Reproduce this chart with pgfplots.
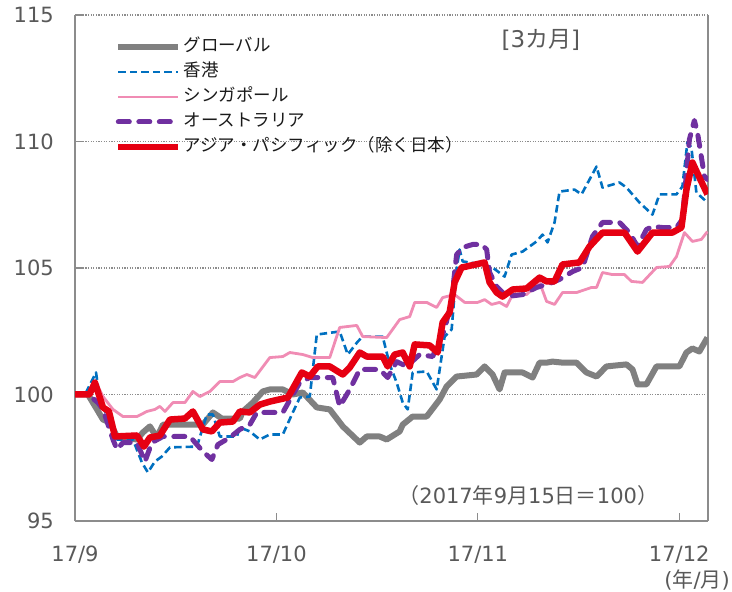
\documentclass[border=0pt]{standalone}
\usepackage{fontspec}
\setmainfont{DejaVu Sans}
\newfontfamily\cjk{Noto Sans CJK JP}
\usepackage{pgfplots}
\pgfplotsset{compat=1.18}
\definecolor{cGray}{HTML}{808080}
\definecolor{cBlue}{HTML}{0070C0}
\definecolor{cPink}{HTML}{F08CB4}
\definecolor{cPurple}{HTML}{7030A0}
\definecolor{cRed}{HTML}{E60012}
\definecolor{cAxis}{HTML}{8C8C8C}
\definecolor{cText}{HTML}{595959}
\definecolor{cLeg}{HTML}{1A1A1A}
\begin{document}
\begin{tikzpicture}
\path[use as bounding box] (-75bp,-71bp) rectangle (657bp,521bp);
\begin{axis}[
  at={(0,0)}, anchor=south west,
  scale only axis, width=633bp, height=506bp,
  xmin=0, xmax=66, ymin=95, ymax=115,
  xtick={0,21,42,63}, xticklabels={17/9,17/10,17/11,17/12},
  ytick={95,100,105,110,115}, yticklabels={95,100,105,110,115},
  axis x line=bottom, axis y line=box,
  axis line style={-, color=cAxis, line width=1.4bp},
  ytick pos=left,
  tick align=inside, major tick length=8bp,
  tick style={color=cAxis, line width=1.2bp},
  ymajorgrids, grid style={color=cAxis, line width=1.3bp, dash pattern=on 1.3bp off 1.3bp},
  xticklabel style={anchor=center, yshift=-34bp, font=\fontsize{21bp}{24bp}\selectfont, text=cText},
  yticklabel style={anchor=east, inner sep=0pt, xshift=-21bp, font=\fontsize{21bp}{24bp}\selectfont, text=cText},
  legend style={draw=none, fill=none, at={(axis description cs:0.063,0.962)}, anchor=north west,
    inner sep=0pt, row sep=0pt, font=\cjk\fontsize{17.5bp}{20bp}\selectfont, text=cLeg,
    nodes={inner ysep=3bp, text height=14bp, text depth=5bp}},
  legend cell align=left,
  legend image code/.code={\draw[#1] (0bp,0bp) -- (60bp,0bp);},
  every axis plot/.append style={line join=round},
]
% Global
\addplot[color=cGray, line width=6bp] coordinates {
(0,100) (1.35,100) (2.29,99.41) (2.92,99.01) (3.65,98.89) (4.38,98.34) (6.46,98.22) (7.08,98.50) (7.81,98.74) (8.54,98.30) (9.17,98.81) (10.63,98.81) (13.33,98.81) (14.38,99.29) (15.31,99.05) (17.19,99.05) (17.5,99.33) (18.54,99.68) (19.58,100.12) (20.31,100.20) (21.67,100.20) (22.71,100.0) (23.75,100.08) (25.21,99.49) (26.56,99.41) (27.92,98.74) (29.69,98.10) (30.42,98.34) (31.77,98.34) (32.5,98.22) (33.85,98.54) (34.17,98.81) (35.21,99.13) (36.67,99.13) (38.02,99.80) (38.75,100.32) (39.79,100.71) (41.88,100.79) (42.71,101.11) (43.54,100.79) (44.27,100.20) (44.79,100.87) (46.67,100.87) (47.71,100.67) (48.44,101.26) (49.17,101.26) (49.79,101.30) (50.83,101.26) (52.29,101.26) (53.33,100.87) (54.38,100.71) (55.42,101.11) (57.5,101.19) (58.13,100.99) (58.65,100.40) (59.58,100.40) (60.63,101.11) (63.02,101.11) (63.75,101.66) (64.38,101.82) (65.10,101.70) (65.94,102.25)
};
\addlegendentry{グローバル}
% Hong Kong
\addplot[color=cBlue, line width=2.6bp, dash pattern=on 7.5bp off 4bp] coordinates {
(0,100) (1.04,100) (2.19,100.87) (2.60,99.80) (3.65,98.89) (4.38,98.22) (6.04,98.22) (6.98,97.31) (7.60,96.92) (8.33,97.35) (9.06,97.55) (9.90,97.91) (12.71,97.94) (13.75,99.21) (14.38,99.21) (15.10,98.34) (16.88,98.34) (17.19,98.70) (18.23,98.54) (19.27,98.22) (20.31,98.42) (21.67,98.42) (22.71,99.29) (23.44,99.88) (24.48,99.92) (25.21,102.37) (27.60,102.49) (28.44,101.58) (29.48,102.09) (30.0,102.29) (32.08,102.29) (32.81,101.19) (33.54,100.47) (34.17,99.68) (34.69,99.41) (35.21,100.87) (36.67,100.91) (37.71,100.20) (38.54,102.29) (39.27,102.57) (39.79,104.94) (40.10,105.73) (40.42,105.26) (42.50,105.14) (43.54,105.02) (44.79,104.66) (45.52,105.53) (46.67,105.65) (48.13,106.05) (48.75,106.32) (49.27,106.01) (50.0,106.80) (50.52,108.02) (52.08,108.10) (52.81,107.91) (54.38,109.01) (55.0,108.18) (56.77,108.38) (57.5,108.18) (58.85,107.59) (60.21,107.11) (60.94,107.91) (62.71,107.91) (63.33,108.22) (63.85,109.96) (64.27,109.76) (64.79,107.98) (65.94,107.59)
};
\addlegendentry{香港}
% Singapore
\addplot[color=cPink, line width=2.8bp] coordinates {
(0,100) (1.04,100) (2.40,100.32) (2.92,99.92) (3.96,99.41) (5.0,99.13) (6.46,99.13) (7.5,99.33) (8.33,99.41) (8.85,99.53) (9.38,99.33) (10.21,99.68) (11.46,99.68) (12.29,100.12) (13.02,99.92) (14.06,100.12) (15.10,100.51) (16.46,100.51) (17.19,100.67) (17.92,100.79) (18.75,100.67) (20.31,101.46) (21.67,101.50) (22.40,101.66) (23.75,101.58) (24.79,101.46) (26.56,101.46) (27.60,102.65) (29.38,102.73) (30.0,102.29) (32.5,102.25) (33.85,102.96) (34.90,103.08) (35.42,103.64) (36.67,103.64) (37.71,103.44) (38.33,103.83) (39.58,103.95) (40.63,103.64) (41.98,103.64) (42.71,103.75) (43.44,103.56) (44.27,103.64) (45.0,103.48) (45.63,103.95) (47.08,103.95) (48.44,104.43) (49.17,103.68) (50.0,103.56) (50.83,104.03) (52.29,104.03) (53.85,104.23) (54.38,104.23) (55.0,104.82) (56.04,104.74) (57.29,104.74) (58.02,104.47) (59.17,104.43) (60.63,105.02) (61.98,105.06) (62.71,105.45) (63.54,106.40) (64.38,106.05) (65.31,106.13) (65.94,106.44)
};
\addlegendentry{シンガポール}
% Australia
\addplot[color=cPurple, line width=5bp, line cap=round, dash pattern=on 11bp off 9.5bp] coordinates {
(0,100) (1.35,100) (2.40,99.68) (2.92,99.41) (3.96,98.22) (4.38,97.83) (5.0,98.10) (6.46,98.10) (7.29,97.35) (8.02,98.10) (9.17,98.34) (11.98,98.34) (13.33,97.75) (14.27,97.43) (14.90,98.02) (16.15,98.30) (17.19,98.62) (18.23,98.81) (18.96,99.29) (21.67,99.29) (22.60,99.92) (23.44,100.47) (24.48,100.67) (26.88,100.67) (27.60,99.53) (28.65,100.20) (29.69,100.99) (31.77,100.99) (32.60,100.67) (33.54,101.30) (34.58,101.11) (35.94,101.58) (37.29,101.50) (38.54,102.57) (39.27,103.75) (39.79,105.53) (40.42,105.81) (41.46,105.93) (42.40,105.93) (42.92,105.73) (43.23,104.82) (43.96,104.27) (45.0,103.87) (46.67,103.95) (48.13,104.23) (49.79,104.43) (50.52,104.55) (51.88,104.86) (52.92,105.02) (53.96,106.25) (55.0,106.80) (56.77,106.80) (57.81,106.40) (58.65,105.85) (59.58,106.52) (60.21,106.64) (61.25,106.60) (62.71,106.60) (63.33,106.92) (64.06,110.08) (64.58,110.83) (64.90,110.36) (65.63,108.62) (65.94,108.50)
};
\addlegendentry{オーストラリア}
% Asia Pacific ex Japan
\addplot[color=cRed, line width=6.5bp] coordinates {
(0,100) (1.5,100) (2.08,100.47) (2.92,99.49) (3.54,99.33) (4.17,98.34) (6.46,98.38) (7.19,97.94) (7.81,98.30) (8.85,98.38) (9.90,99.01) (11.46,99.05) (12.29,99.33) (13.33,98.62) (14.27,98.54) (15.10,98.89) (16.46,98.93) (17.19,99.33) (18.23,99.29) (19.27,99.60) (20.31,99.72) (22.19,99.88) (23.65,100.87) (24.48,100.71) (25.31,101.11) (26.56,101.11) (27.92,100.79) (28.65,101.07) (29.69,101.66) (30.42,101.50) (32.08,101.50) (32.60,101.11) (33.33,101.58) (34.17,101.66) (34.90,101.11) (35.42,101.98) (36.98,101.94) (37.81,101.66) (38.33,102.85) (39.06,103.24) (39.58,104.43) (40.31,105.02) (40.83,105.06) (42.71,105.22) (43.23,104.43) (43.96,104.03) (44.58,103.87) (45.63,104.15) (47.08,104.19) (48.44,104.62) (49.17,104.47) (50.0,104.47) (50.83,105.14) (52.60,105.22) (53.65,105.85) (55.0,106.40) (57.29,106.40) (58.65,105.65) (60.21,106.40) (62.29,106.40) (63.23,106.60) (63.75,108.10) (64.38,109.17) (65.10,108.58) (65.94,107.91)
};
\addlegendentry{アジア・パシフィック（除く日本）}
\node[text=cText, font=\fontsize{23bp}{26bp}\selectfont, anchor=center] at (axis description cs:0.736,0.95) {[3{\cjk カ月}]};
\node[text=cText, font=\fontsize{21bp}{24bp}\selectfont, anchor=center] at (axis description cs:0.716,0.051) {{\cjk （}2017{\cjk 年}9{\cjk 月}15{\cjk 日＝}100{\cjk ）}};
\end{axis}
\node[text=cText, font=\fontsize{21bp}{24bp}\selectfont, anchor=east, inner sep=0pt] at (655bp,-59bp) {({\cjk 年}/{\cjk 月})};
\end{tikzpicture}
\end{document}
